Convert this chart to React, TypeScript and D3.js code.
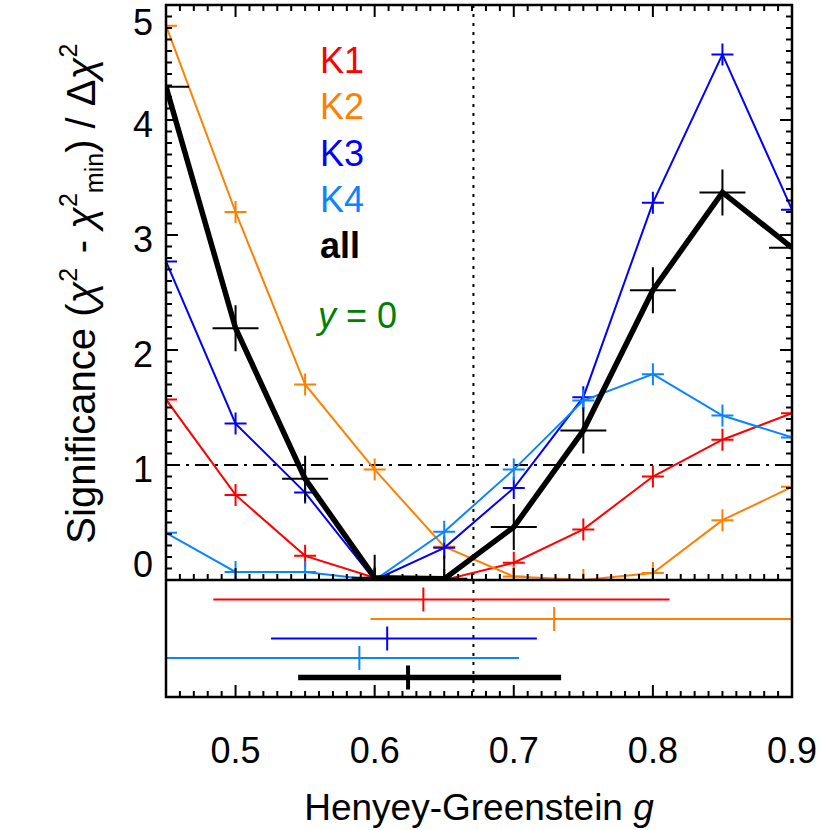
import React, { useEffect, useRef } from 'react';
import * as d3 from 'd3';

// Henyey-Greenstein g grid and significance curves
const G_VALUES = [0.45, 0.5, 0.55, 0.6, 0.65, 0.7, 0.75, 0.8, 0.85, 0.9];
const K1 = [1.57, 0.74, 0.21, 0.02, 0.0, 0.15, 0.44, 0.9, 1.22, 1.45];
const K2 = [4.82, 3.2, 1.7, 0.96, 0.29, 0.03, 0.0, 0.06, 0.52, 0.81];
const K3 = [2.77, 1.36, 0.76, 0.0, 0.28, 0.8, 1.59, 3.28, 4.57, 3.22];
const K4 = [0.41, 0.07, 0.07, 0.0, 0.42, 0.96, 1.56, 1.79, 1.43, 1.24];
const ALL = [4.29, 2.19, 0.88, 0.02, 0.01, 0.46, 1.3, 2.52, 3.37, 2.89];

const SERIES_NAMES = ['K1', 'K2', 'K3', 'K4', 'all'];
const SERIES_COLORS = ['#ff0000', '#ff8000', '#0000ff', '#0a84ff', '#000000'];

// best-fit g with its range (lower panel)
const BEST_G = [0.635, 0.729, 0.609, 0.589, 0.624];
const BEST_LO = [0.484, 0.597, 0.5255, 0.44, 0.545];
const BEST_HI = [0.812, 0.95, 0.7166, 0.7038, 0.734];
const G_REF = 0.671;

const X_TICKS = [0.5, 0.6, 0.7, 0.8, 0.9];
const Y_TICKS = [0, 1, 2, 3, 4, 5];

const W = 830;
const H = 830;
const FONT = "'Liberation Sans', Arial, Helvetica, sans-serif";

export default function App() {
  const svgRef = useRef<SVGSVGElement | null>(null);

  useEffect(() => {
    if (!svgRef.current) return;
    const svg = d3.select(svgRef.current);
    svg.selectAll('*').remove();

    const left = 166;
    const right = 792;
    const top = 5;
    const mid = 580;
    const bottom = 697;

    const x = d3.scaleLinear().domain([0.45, 0.9]).range([left, right]);
    const y = d3.scaleLinear().domain([0, 5]).range([mid, top]);
    const row = d3.scalePoint<string>().domain(SERIES_NAMES).range([mid, bottom]).padding(1);

    const series = [K1, K2, K3, K4, ALL];

    const defs = svg.append('defs');
    defs
      .append('clipPath')
      .attr('id', 'clip-top')
      .append('rect')
      .attr('x', left)
      .attr('y', top)
      .attr('width', right - left)
      .attr('height', mid - top);
    defs
      .append('clipPath')
      .attr('id', 'clip-bot')
      .append('rect')
      .attr('x', left)
      .attr('y', mid)
      .attr('width', right - left)
      .attr('height', bottom - mid);

    // reference lines
    svg
      .append('line')
      .attr('x1', left)
      .attr('x2', right)
      .attr('y1', y(1))
      .attr('y2', y(1))
      .attr('stroke', '#000')
      .attr('stroke-width', 2)
      .attr('stroke-dasharray', '14 6 3 6');
    svg
      .append('line')
      .attr('x1', x(G_REF))
      .attr('x2', x(G_REF))
      .attr('y1', top)
      .attr('y2', bottom)
      .attr('stroke', '#000')
      .attr('stroke-width', 2)
      .attr('stroke-dasharray', '3 6');

    // curves
    const gTop = svg.append('g').attr('clip-path', 'url(#clip-top)');
    const line = d3
      .line<number>()
      .x((_, i) => x(G_VALUES[i]))
      .y((d) => y(d));

    series.forEach((vals, si) => {
      const isAll = si === 4;
      const color = SERIES_COLORS[si];
      gTop
        .append('path')
        .datum(vals)
        .attr('d', line)
        .attr('fill', 'none')
        .attr('stroke', color)
        .attr('stroke-width', isAll ? 5.5 : 2)
        .attr('stroke-linejoin', 'miter');
      const s = isAll ? 23 : 11;
      vals.forEach((v, i) => {
        const cx = x(G_VALUES[i]);
        const cy = y(v);
        gTop
          .append('path')
          .attr('d', `M${cx - s},${cy}H${cx + s}M${cx},${cy - s}V${cy + s}`)
          .attr('stroke', color)
          .attr('stroke-width', 2)
          .attr('fill', 'none');
      });
    });

    // lower panel: best g ranges
    const gBot = svg.append('g').attr('clip-path', 'url(#clip-bot)');
    SERIES_NAMES.forEach((name, si) => {
      const isAll = si === 4;
      const ry = row(name) ?? 0;
      const color = SERIES_COLORS[si];
      gBot
        .append('line')
        .attr('x1', x(BEST_LO[si]))
        .attr('x2', x(BEST_HI[si]))
        .attr('y1', ry)
        .attr('y2', ry)
        .attr('stroke', color)
        .attr('stroke-width', isAll ? 5.5 : 2);
      gBot
        .append('line')
        .attr('x1', x(BEST_G[si]))
        .attr('x2', x(BEST_G[si]))
        .attr('y1', ry - 12)
        .attr('y2', ry + 12)
        .attr('stroke', color)
        .attr('stroke-width', isAll ? 4 : 2);
    });

    // frame
    const frame = svg.append('g').attr('stroke', '#000').attr('stroke-width', 2.5).attr('fill', 'none');
    frame.append('path').attr('d', `M${left},${bottom}V${top}H${right}V${bottom}Z`);
    frame.append('line').attr('x1', left).attr('x2', right).attr('y1', mid).attr('y2', mid);

    // ticks
    const ticks = svg.append('g').attr('stroke', '#000').attr('stroke-width', 2);
    const xMinor = d3.range(46, 91).map((d) => d / 100);
    xMinor.forEach((g) => {
      const major = Math.abs(g * 10 - Math.round(g * 10)) < 1e-6;
      const len = major ? 12 : 6;
      const px = x(g);
      ticks.append('line').attr('x1', px).attr('x2', px).attr('y1', top).attr('y2', top + len);
      ticks.append('line').attr('x1', px).attr('x2', px).attr('y1', mid).attr('y2', mid - len);
      ticks.append('line').attr('x1', px).attr('x2', px).attr('y1', bottom).attr('y2', bottom - len);
    });
    const yMinor = d3.range(1, 50).map((d) => d / 10);
    yMinor.forEach((v) => {
      const major = Math.abs(v - Math.round(v)) < 1e-6;
      const len = major ? 12 : 6;
      const py = y(v);
      ticks.append('line').attr('x1', left).attr('x2', left + len).attr('y1', py).attr('y2', py);
      ticks.append('line').attr('x1', right).attr('x2', right - len).attr('y1', py).attr('y2', py);
    });

    // tick labels
    const labels = svg.append('g').attr('font-family', FONT).attr('font-size', 36).attr('fill', '#000');
    X_TICKS.forEach((t) => {
      labels
        .append('text')
        .attr('x', x(t))
        .attr('y', 763)
        .attr('text-anchor', 'middle')
        .text(d3.format('.1f')(t));
    });
    Y_TICKS.forEach((t) => {
      const off = t === 5 ? 20 : t === 0 ? -13 : 7;
      labels
        .append('text')
        .attr('x', 153)
        .attr('y', y(t) + off)
        .attr('text-anchor', 'end')
        .attr('dominant-baseline', 'middle')
        .text(String(t));
    });

    // axis titles
    const xt = svg
      .append('text')
      .attr('x', (left + right) / 2)
      .attr('y', 820)
      .attr('text-anchor', 'middle')
      .attr('font-family', FONT)
      .attr('font-size', 37);
    xt.append('tspan').text('Henyey-Greenstein ');
    xt.append('tspan').attr('font-style', 'italic').text('g');

    const yt = svg
      .append('text')
      .attr('transform', `translate(95,292) rotate(-90)`)
      .attr('text-anchor', 'middle')
      .attr('font-family', FONT)
      .attr('font-size', 40);
    const sup = (txt: string) => {
      yt.append('tspan').attr('dy', -18).attr('font-size', 25).text(txt);
      yt.append('tspan').attr('dy', 18).text('\u200a');
    };
    yt.append('tspan').text('Significance (');
    yt.append('tspan').attr('font-style', 'italic').text('χ');
    sup('2');
    yt.append('tspan').text(' - ');
    yt.append('tspan').attr('font-style', 'italic').text('χ');
    yt.append('tspan').attr('dy', -18).attr('font-size', 25).text('2');
    yt.append('tspan').attr('dy', 26).attr('font-size', 25).text('min');
    yt.append('tspan').attr('dy', -8).text(') / Δ');
    yt.append('tspan').attr('font-style', 'italic').text('χ');
    sup('2');

    // legend
    const legend = svg.append('g').attr('font-family', FONT).attr('font-size', 36);
    SERIES_NAMES.forEach((name, si) => {
      legend
        .append('text')
        .attr('x', 320)
        .attr('y', 73 + si * 46.3)
        .attr('fill', SERIES_COLORS[si])
        .attr('font-weight', si === 4 ? 'bold' : 'normal')
        .text(name);
    });
    const note = legend.append('text').attr('x', 318).attr('y', 328).attr('fill', '#008000');
    note.append('tspan').attr('font-style', 'italic').text('y');
    note.append('tspan').text(' = 0');
  }, []);

  return (
    <svg
      ref={svgRef}
      width={W}
      height={H}
      style={{ position: 'absolute', left: 0, top: 0, background: '#fff' }}
    />
  );
}
